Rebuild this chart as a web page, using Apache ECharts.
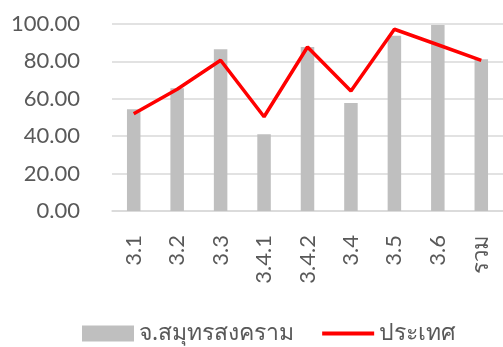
<!DOCTYPE html>
<html><head><meta charset="utf-8">
<script src="https://cdn.jsdelivr.net/npm/echarts@6/dist/echarts.min.js"></script>
<style>html,body{margin:0;padding:0;background:#fff}#c{width:503px;height:347px}</style>
</head><body><div id="c"></div>
<script>
var categories = ['3.1','3.2','3.3','3.4.1','3.4.2','3.4','3.5','3.6','รวม'];
var provinceValues = [54.4, 65.6, 86.5, 41.0, 87.7, 57.8, 93.7, 99.5, 81.1];
var countryValues = [52.0, 65.1, 80.6, 50.4, 87.7, 64.2, 97.2, 88.9, 80.6];
var seriesNames = ['จ.สมุทรสงคราม', 'ประเทศ'];
var yTicks = [0, 20, 40, 60, 80, 100];

var FONT = 'Lato, "Noto Sans", sans-serif';
var chart = echarts.init(document.getElementById('c'), null, {renderer:'canvas'});
chart.setOption({
  animation:false,
  textStyle:{fontFamily:FONT},
  grid:{left:112, right:-3, top:24, bottom:136, containLabel:false},
  legend:{
    left:77, top:317, itemWidth:52, itemHeight:16, itemGap:28,
    textStyle:{fontSize:23, color:'#595959', fontFamily:'"Noto Sans", sans-serif', padding:[0,0,0,0]},
    data:[{name:seriesNames[0], icon:'rect'}, {name:seriesNames[1], icon:'path://M0,0L52,0L52,4L0,4Z'}]
  },
  xAxis:{
    type:'category', data:categories,
    axisLine:{lineStyle:{color:'#d9d9d9', width:1.5}},
    axisTick:{show:false},
    axisLabel:{rotate:90, margin:24, fontSize:22, color:'#595959', fontFamily:FONT}
  },
  yAxis:{
    type:'value', min:yTicks[0], max:yTicks[yTicks.length-1], interval:20,
    axisLine:{show:false}, axisTick:{show:false},
    splitLine:{lineStyle:{color:'#d9d9d9', width:1.5}},
    axisLabel:{margin:32, fontSize:22, color:'#595959', fontFamily:FONT,
      formatter:function(v){return v.toFixed(2);}}
  },
  series:[
    {name:seriesNames[0], type:'bar', data:provinceValues, barWidth:13.5,
     itemStyle:{color:'#bfbfbf'}},
    {name:seriesNames[1], type:'line', data:countryValues, symbol:'none',
     lineStyle:{color:'#ff0000', width:3.5}, itemStyle:{color:'#ff0000'}}
  ]
});
</script></body></html>
